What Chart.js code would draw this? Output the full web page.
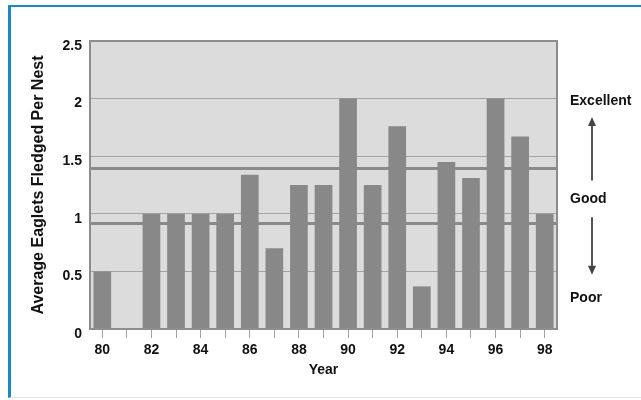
<!DOCTYPE html>
<html>
<head>
<meta charset="utf-8">
<script src="https://cdn.jsdelivr.net/npm/chart.js@4.4.0/dist/chart.umd.min.js"></script>
<style>
  html, body { margin: 0; padding: 0; background: #fff; }
  #frame {
    position: absolute; left: 8px; top: 5px; width: 633px; height: 393px;
    border-top: 2px solid #1b8ac3; border-left: 3px solid #1b8ac3;
    border-bottom: 1px solid #e4e4e4; box-sizing: border-box;
  }
  #myChart { position: absolute; left: 0; top: 0; }
</style>
</head>
<body>
<div id="frame"></div>
<canvas id="myChart" width="641" height="400"></canvas>
<script>
const years = ["80","81","82","83","84","85","86","87","88","89","90","91","92","93","94","95","96","97","98"];
const eaglets = [0.5, 0, 1.0, 1.0, 1.0, 1.0, 1.34, 0.7, 1.25, 1.25, 2.0, 1.25, 1.76, 0.37, 1.45, 1.31, 2.0, 1.67, 1.0];
const yTicks = [0, 0.5, 1, 1.5, 2, 2.5];
// thresholds drawn as thick lines across the plot
const bands = [1.4, 0.92];
// ratings on the right side, with the value they sit at
const ratings = ["Excellent", "Good", "Poor"];
const ratingAt = [1.98, 1.13, 0.27];

const font = "'Liberation Sans', Arial, sans-serif";
const ink = "#111";

const plotBox = {
  id: "plotBox",
  beforeDraw(chart) {
    const {ctx, chartArea: a} = chart;
    ctx.save();
    ctx.fillStyle = "#dcdcdc";
    ctx.fillRect(a.left, a.top, a.right - a.left, a.bottom - a.top);
    ctx.restore();
  },
  beforeDatasetsDraw(chart) {
    const {ctx, chartArea: a, scales: {y}} = chart;
    ctx.save();
    ctx.strokeStyle = "#8a8a8a";
    ctx.lineWidth = 3;
    bands.forEach(v => {
      const py = Math.round(y.getPixelForValue(v)) + 0.5;
      ctx.beginPath();
      ctx.moveTo(a.left, py);
      ctx.lineTo(a.right, py);
      ctx.stroke();
    });
    ctx.restore();
  },
  afterDatasetsDraw(chart) {
    const {ctx, chartArea: a} = chart;
    ctx.save();
    ctx.strokeStyle = "#8d8d8d";
    ctx.lineWidth = 2;
    ctx.strokeRect(a.left, a.top, a.right - a.left, a.bottom - a.top);
    ctx.restore();
  },
  afterDraw(chart) {
    const {ctx, chartArea: a, scales: {y}} = chart;
    const tx = a.right + 13;
    const ax = a.right + 35;
    ctx.save();
    ctx.fillStyle = ink;
    ctx.font = "bold 14px " + font;
    ctx.textBaseline = "middle";
    ratings.forEach((t, i) => ctx.fillText(t, tx, y.getPixelForValue(ratingAt[i])));

    ctx.strokeStyle = "#555";
    ctx.fillStyle = "#444";
    ctx.lineWidth = 2;
    const arrow = (from, to) => {
      const y0 = y.getPixelForValue(from), y1 = y.getPixelForValue(to);
      const dir = y1 < y0 ? 1 : -1;
      ctx.beginPath();
      ctx.moveTo(ax, y0);
      ctx.lineTo(ax, y1 + dir * 6);
      ctx.stroke();
      ctx.beginPath();
      ctx.moveTo(ax, y1);
      ctx.lineTo(ax - 4, y1 + dir * 9);
      ctx.lineTo(ax + 4, y1 + dir * 9);
      ctx.closePath();
      ctx.fill();
    };
    arrow(1.29, 1.84);
    arrow(0.97, 0.47);
    ctx.restore();
  }
};

new Chart("myChart", {
  type: "bar",
  data: {
    labels: years,
    datasets: [{
      data: eaglets,
      backgroundColor: "#888888",
      borderWidth: 0,
      barPercentage: 0.72,
      categoryPercentage: 1.0
    }]
  },
  options: {
    responsive: false,
    animation: false,
    layout: {padding: {left: 28, top: 41, right: 84, bottom: 0}},
    plugins: {legend: {display: false}, tooltip: {enabled: false}},
    scales: {
      x: {
        offset: true,
        grid: {offset: false, drawOnChartArea: false, drawTicks: true, tickLength: 9, tickColor: "#a0a0a0"},
        border: {display: false},
        ticks: {
          autoSkip: false, maxRotation: 0, padding: 4, color: ink,
          font: {family: font, size: 14, weight: "bold"},
          callback: (v, i) => (i % 2 === 0 ? years[i] : "")
        },
        title: {display: true, text: "Year", color: ink, font: {family: font, size: 14, weight: "bold"}, padding: {top: 0, bottom: 21}},
        afterFit: s => { s.height = 71; }
      },
      y: {
        min: 0, max: 2.5,
        afterBuildTicks: s => { s.ticks = yTicks.map(v => ({value: v})); },
        grid: {color: "#a3a3a3", lineWidth: 1, drawTicks: false},
        border: {display: false},
        ticks: {
          padding: 8, labelOffset: 5, color: ink,
          font: {family: font, size: 14, weight: "bold"},
          callback: v => String(v)
        },
        title: {display: true, text: "Average Eaglets Fledged Per Nest", color: ink, font: {family: font, size: 16, weight: "bold"}, padding: {top: 1, bottom: 0}},
        afterFit: s => { s.width = 62; }
      }
    }
  },
  plugins: [plotBox]
});
</script>
</body>
</html>
